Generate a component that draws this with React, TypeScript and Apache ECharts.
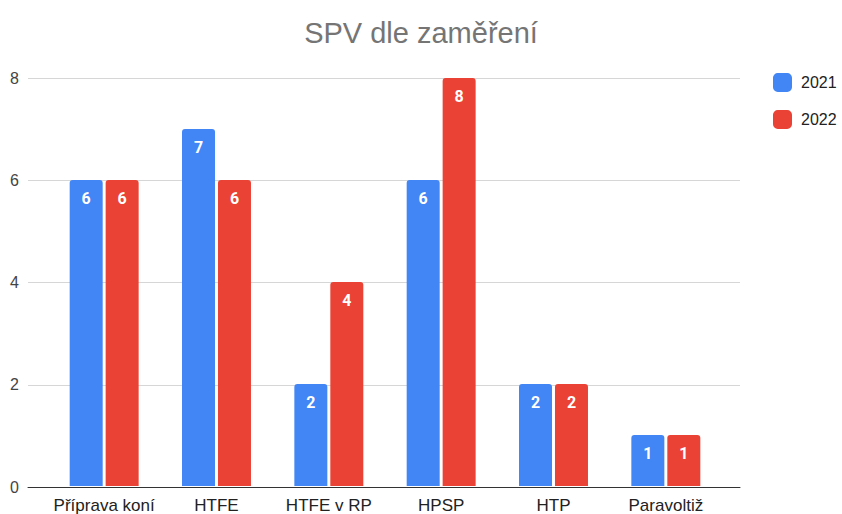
import React, { useEffect, useRef } from "react";
import * as echarts from "echarts";

const categories = ["Příprava koní", "HTFE", "HTFE v RP", "HPSP", "HTP", "Paravoltiž"];
const values2021 = [6, 7, 2, 6, 2, 1];
const values2022 = [6, 6, 4, 8, 2, 1];
const seriesNames = ["2021", "2022"];
const yTicks = [0, 2, 4, 6, 8];

export default function App() {
  const ref = useRef<HTMLDivElement>(null);
  useEffect(() => {
    if (!ref.current) return;
    const chart = echarts.init(ref.current, undefined, { renderer: "svg" });
    const font = "'Liberation Sans', Arial, sans-serif";
    const label = {
      show: true,
      position: "insideTop",
      distance: 10,
      color: "#fff",
      fontWeight: "bold",
      fontSize: 16,
      fontFamily: "Roboto, Arial, sans-serif",
    };
    chart.setOption({
      animation: false,
      textStyle: { fontFamily: font },
      title: {
        text: "SPV dle zaměření",
        left: 416,
        top: 13,
        textAlign: "center",
        textStyle: { fontSize: 29, fontWeight: "normal", color: "#757575", fontFamily: font },
      },
      legend: {
        orient: "vertical",
        left: 768,
        top: 68,
        itemWidth: 19,
        itemHeight: 19,
        itemGap: 18,
        icon: "roundRect",
        textStyle: { fontSize: 16, color: "#222", fontFamily: font, padding: [0, 0, 0, 4] },
        data: seriesNames,
      },
      grid: [
        { left: 28, right: 102, top: 78, bottom: 27 },
        { left: 48, right: 120, top: 78, bottom: 27 },
      ],
      xAxis: [
        {
          gridIndex: 0,
          type: "category",
          data: [""],
          axisLine: { show: true, lineStyle: { color: "#333", width: 1 } },
          axisTick: { show: false },
          axisLabel: { show: false },
        },
        {
          gridIndex: 1,
          type: "category",
          data: categories,
          axisLine: { show: false },
          axisTick: { show: false },
          axisLabel: { interval: 0, color: "#222", fontSize: 17, margin: 11, fontFamily: font },
        },
      ],
      yAxis: [
        {
          gridIndex: 0,
          type: "value",
          min: yTicks[0],
          max: yTicks[yTicks.length - 1],
          interval: 2,
          axisLine: { show: false },
          axisTick: { show: false },
          axisLabel: { color: "#444", fontSize: 16, margin: 9, fontFamily: font },
          splitLine: { lineStyle: { color: "#d6d6d6", width: 1 } },
        },
        {
          gridIndex: 1,
          type: "value",
          min: yTicks[0],
          max: yTicks[yTicks.length - 1],
          interval: 2,
          show: false,
          splitLine: { show: false },
        },
      ],
      series: [
        {
          name: seriesNames[0],
          type: "bar",
          xAxisIndex: 1,
          yAxisIndex: 1,
          data: values2021,
          barWidth: 33,
          barGap: "9%",
          itemStyle: { color: "#4285f4", borderRadius: [3, 3, 0, 0] },
          label,
        },
        {
          name: seriesNames[1],
          type: "bar",
          xAxisIndex: 1,
          yAxisIndex: 1,
          data: values2022,
          barWidth: 33,
          barGap: "9%",
          itemStyle: { color: "#ea4335", borderRadius: [3, 3, 0, 0] },
          label,
        },
      ],
    });
    return () => chart.dispose();
  }, []);
  return <div ref={ref} style={{ width: 842, height: 514, position: "absolute", left: 0, top: 0 }} />;
}
